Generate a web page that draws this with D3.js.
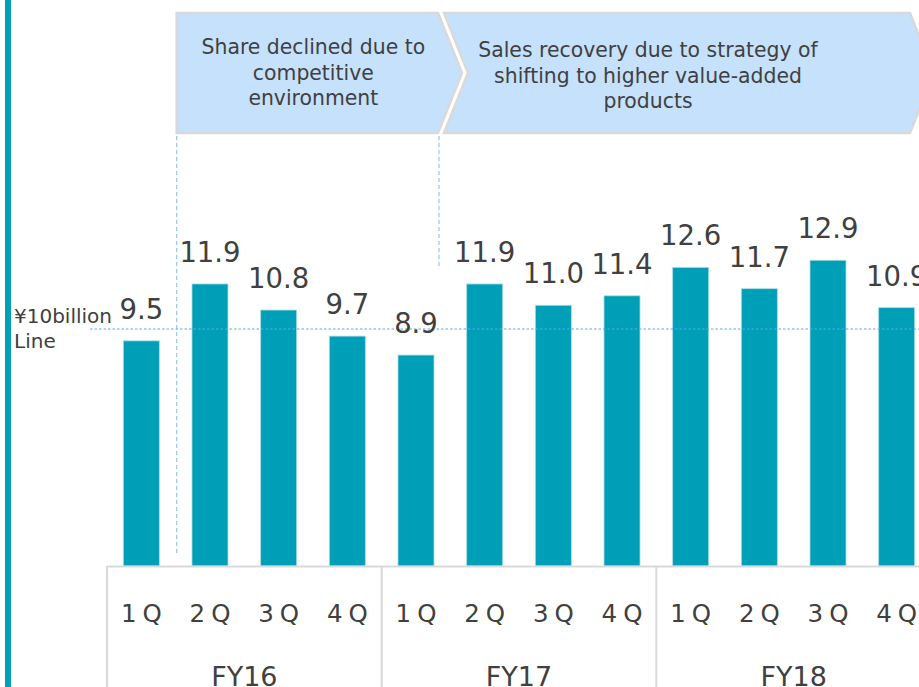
<!DOCTYPE html>
<html>
<head>
<meta charset="utf-8">
<script src="https://cdn.jsdelivr.net/npm/d3@7"></script>
<style>
  html, body { margin: 0; padding: 0; background: #fff; }
  svg { display: block; font-family: "DejaVu Sans", Verdana, sans-serif; }
</style>
</head>
<body>
<svg id="chart" width="919" height="687"></svg>
<script>
// data
var years = ["FY16", "FY17", "FY18"];
var quarters = ["1Q", "2Q", "3Q", "4Q"];
var sales = [9.5, 11.9, 10.8, 9.7, 8.9, 11.9, 11.0, 11.4, 12.6, 11.7, 12.9, 10.9];
var refLine = 10;
var refLabel = ["¥10billion", "Line"];
var noteText1 = ["Share declined due to", "competitive", "environment"];
var noteText2 = ["Sales recovery due to strategy of", "shifting to higher value-added", "products"];

var svg = d3.select("#chart");
var W = 919, H = 687;

var keys = [];
years.forEach(function (y) { quarters.forEach(function (q) { keys.push(y + "-" + q); }); });
var data = sales.map(function (v, i) { return { key: keys[i], year: years[Math.floor(i / 4)], q: quarters[i % 4], value: v }; });

var x = d3.scaleBand().domain(keys).range([107, 931]).paddingInner(0.476).paddingOuter(0.238);
var y = d3.scaleLinear().domain([0, 10]).range([566, 329]);
var step = x.step();
var left = x.range()[0];
var halfGap = (step - x.bandwidth()) / 2;

// left accent bar
svg.append("rect").attr("x", 5).attr("y", 0).attr("width", 6).attr("height", H).attr("fill", "#009fb8");

// annotation arrows
var boxTop = 13, boxBot = 133, tipW = 24, my = (boxTop + boxBot) / 2;
var b1x0 = x(keys[1]) - halfGap + 1;
var b1x1 = x(keys[4]) + x.bandwidth() + 4;
var b2x0 = b1x1 + 6;
var b2x1 = 910;
var notes = [
    { pts: [[b1x0, boxTop], [b1x1, boxTop], [b1x1 + tipW, my], [b1x1, boxBot], [b1x0, boxBot]],
      cx: (b1x0 + b1x1) / 2 + 6, y0: 54, lines: noteText1 },
    { pts: [[b2x0, boxTop], [b2x1, boxTop], [b2x1 + tipW, my], [b2x1, boxBot], [b2x0, boxBot], [b2x0 + tipW, my]],
      cx: 648, y0: 57, lines: noteText2 }
];
notes.forEach(function (n) {
    svg.append("path")
        .attr("d", d3.line()(n.pts) + "Z")
        .attr("fill", "#c5e1fc")
        .attr("stroke", "#d9d9d9")
        .attr("stroke-width", 2.5);
    var t = svg.append("text").attr("text-anchor", "middle").attr("fill", "#404040").attr("font-size", 20.4);
    n.lines.forEach(function (l, j) {
        t.append("tspan").attr("x", n.cx).attr("y", n.y0 + j * 25.5).text(l);
    });
});

// dashed guide lines
svg.append("line").attr("x1", b1x0).attr("x2", b1x0).attr("y1", 136).attr("y2", 556)
    .attr("stroke", "#9ccaf3").attr("stroke-width", 1.3).attr("stroke-dasharray", "4,3");
svg.append("line").attr("x1", b1x1 + 1).attr("x2", b1x1 + 1).attr("y1", 136).attr("y2", 268)
    .attr("stroke", "#9ccaf3").attr("stroke-width", 1.3).attr("stroke-dasharray", "4,3");

// bars
svg.selectAll("rect.bar")
    .data(data)
    .enter()
    .append("rect")
    .attr("class", "bar")
    .attr("x", function (d) { return x(d.key); })
    .attr("y", function (d) { return y(d.value); })
    .attr("width", x.bandwidth())
    .attr("height", function (d) { return y(0) - y(d.value); })
    .attr("fill", "#009fb8")
    .attr("stroke", "#a6dbe5")
    .attr("stroke-width", 0.8);

// reference line
svg.append("line").attr("x1", 90).attr("x2", W).attr("y1", y(refLine)).attr("y2", y(refLine))
    .attr("stroke", "#5ea6ee").attr("stroke-width", 1).attr("stroke-dasharray", "2.5,2");
var rl = svg.append("text").attr("fill", "#404040").attr("font-size", 20);
refLabel.forEach(function (l, j) {
    rl.append("tspan").attr("x", 14).attr("y", 323 + j * 25).text(l);
});

// value labels
svg.selectAll("text.val")
    .data(data)
    .enter()
    .append("text")
    .attr("class", "val")
    .attr("x", function (d) { return x(d.key) + x.bandwidth() / 2; })
    .attr("y", function (d) { return y(d.value) - 22; })
    .attr("text-anchor", "middle")
    .attr("fill", "#404040")
    .attr("font-size", 27.5)
    .text(function (d) { return d.value.toFixed(1); });

// category table
var grid = "#d9d9d9";
svg.append("line").attr("x1", left).attr("x2", W).attr("y1", 566.5).attr("y2", 566.5).attr("stroke", grid).attr("stroke-width", 2);
years.forEach(function (yr, i) {
    var gx = left + i * 4 * step;
    svg.append("line").attr("x1", gx).attr("x2", gx).attr("y1", 566).attr("y2", H).attr("stroke", grid).attr("stroke-width", 2);
    svg.append("text").attr("x", gx + 2 * step).attr("y", 686).attr("text-anchor", "middle")
        .attr("fill", "#404040").attr("font-size", 27).text(yr);
});
svg.selectAll("text.q")
    .data(data)
    .enter()
    .append("text")
    .attr("class", "q")
    .attr("x", function (d) { return x(d.key) + x.bandwidth() / 2 + 3; })
    .attr("y", 622)
    .attr("text-anchor", "middle")
    .attr("fill", "#404040")
    .attr("font-size", 24.5)
    .attr("letter-spacing", 6)
    .text(function (d) { return d.q; });
</script>
</body>
</html>
